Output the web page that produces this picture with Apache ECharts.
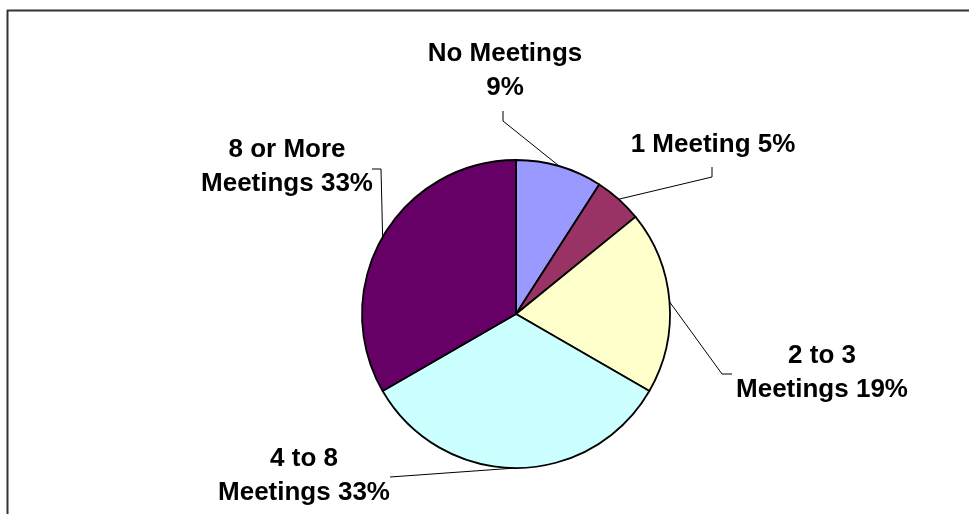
<!DOCTYPE html>
<html>
<head>
<meta charset="utf-8">
<script src="https://cdn.jsdelivr.net/npm/echarts@6/dist/echarts.min.js"></script>
<style>
html,body{margin:0;padding:0;background:#fff;}
#chart{width:969px;height:514px;}
</style>
</head>
<body>
<div id="chart"></div>
<script>
// ---- data ----
var categories = ['No Meetings', '1 Meeting', '2 to 3 Meetings', '4 to 8 Meetings', '8 or More Meetings'];
var values = [9, 5, 19, 33, 33];
var labelTexts = ['No Meetings\n9%', '1 Meeting 5%', '2 to 3\nMeetings 19%', '4 to 8\nMeetings 33%', '8 or More\nMeetings 33%'];
var colors = ['#9999FF', '#993366', '#FFFFCC', '#CCFFFF', '#660066'];

// ---- label placement (layout only) ----
var labelPos = [
  {x: 505, y: 71, elbow: [503, 121], end: [503, 111]},
  {x: 713, y: 145, elbow: [712, 177], end: [712, 167]},
  {x: 822, y: 373, elbow: [722, 374], end: [732, 374]},
  {x: 304, y: 476, elbow: [390, 477], end: [390, 477]},
  {x: 287, y: 167, elbow: [381, 169], end: [372, 169]}
];

var chart = echarts.init(document.getElementById('chart'), null, {renderer: 'canvas'});
var data = categories.map(function (c, i) {
  return {name: c, value: values[i], itemStyle: {color: colors[i]}};
});
chart.setOption({
  animation: false,
  backgroundColor: '#ffffff',
  graphic: [
    {type: 'line', shape: {x1: 7, y1: 10.5, x2: 969, y2: 10.5}, style: {stroke: '#333', lineWidth: 2}},
    {type: 'line', shape: {x1: 7.5, y1: 10, x2: 7.5, y2: 514}, style: {stroke: '#333', lineWidth: 2}}
  ],
  series: [{
    type: 'pie',
    center: [516, 314],
    radius: 154,
    startAngle: 90,
    clockwise: true,
    data: data,
    itemStyle: {borderColor: '#000', borderWidth: 1.8},
    emphasis: {disabled: true},
    label: {
      show: true,
      position: 'outside',
      formatter: function (p) { return labelTexts[p.dataIndex]; },
      fontFamily: '"Liberation Sans", Arial, sans-serif',
      fontWeight: 'bold',
      fontSize: 26,
      lineHeight: 34,
      color: '#000',
      align: 'center'
    },
    labelLine: {show: true, length: 20, length2: 10, lineStyle: {color: '#000', width: 1}},
    labelLayout: function (params) {
      var lp = labelPos[params.dataIndex];
      var start = params.labelLinePoints ? params.labelLinePoints[0] : lp.elbow;
      return {
        x: lp.x,
        y: lp.y,
        align: 'center',
        verticalAlign: 'middle',
        labelLinePoints: [start, lp.elbow, lp.end]
      };
    }
  }]
});
</script>
</body>
</html>
